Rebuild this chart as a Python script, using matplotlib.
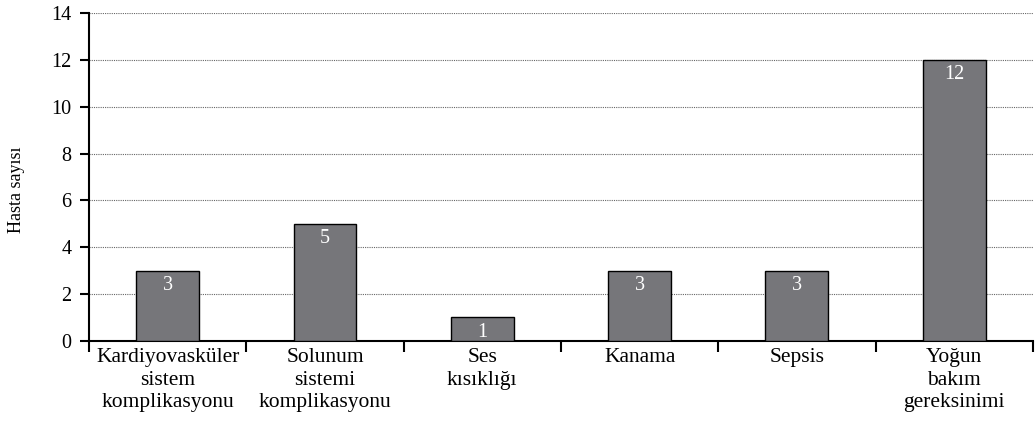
import matplotlib.pyplot as plt

categories = [
    "Kardiyovasküler\nsistem\nkomplikasyonu",
    "Solunum\nsistemi\nkomplikasyonu",
    "Ses\nkısıklığı",
    "Kanama",
    "Sepsis",
    "Yoğun\nbakım\ngereksinimi",
]
counts = [3, 5, 1, 3, 3, 12]
y_ticks = [0, 2, 4, 6, 8, 10, 12, 14]

plt.rcParams["font.family"] = ["Liberation Serif", "DejaVu Serif"]

fig = plt.figure(figsize=(10.35, 4.24), dpi=100)
ax = fig.add_axes([0.086, 0.196, 0.912, 0.773])

x = list(range(len(categories)))
bars = ax.bar(x, counts, width=0.4, color="#76767a", edgecolor="black", linewidth=1.0, zorder=3)

for xi, v in zip(x, counts):
    ax.text(xi, v - 0.22, str(v), ha="center", va="top", color="white", fontsize=14.5, zorder=4)

ax.set_xlim(-0.5, len(categories) - 0.5)
ax.set_ylim(0, 14)
ax.set_yticks(y_ticks)
ax.tick_params(axis="y", labelsize=14.5, length=6.5, width=1.5, pad=6, direction="out")
ax.yaxis.grid(True, linestyle=(0, (1, 1)), color="#666666", linewidth=0.8, zorder=0)

# category labels centred, ticks on the boundaries
ax.set_xticks(x)
ax.set_xticklabels(categories, fontsize=15.5, linespacing=1.27)
ax.tick_params(axis="x", length=0, pad=5)
ax.set_xticks([i - 0.5 for i in range(len(categories) + 1)], minor=True)
ax.tick_params(axis="x", which="minor", length=8, width=1.5, direction="out")

for side in ["top", "right"]:
    ax.spines[side].set_visible(False)
ax.spines["left"].set_linewidth(1.5)
ax.spines["bottom"].set_linewidth(1.5)

ax.set_ylabel("Hasta sayısı", fontsize=13)
ax.yaxis.set_label_coords(-0.068, 0.46)

fig.savefig("out.png", dpi=100)
